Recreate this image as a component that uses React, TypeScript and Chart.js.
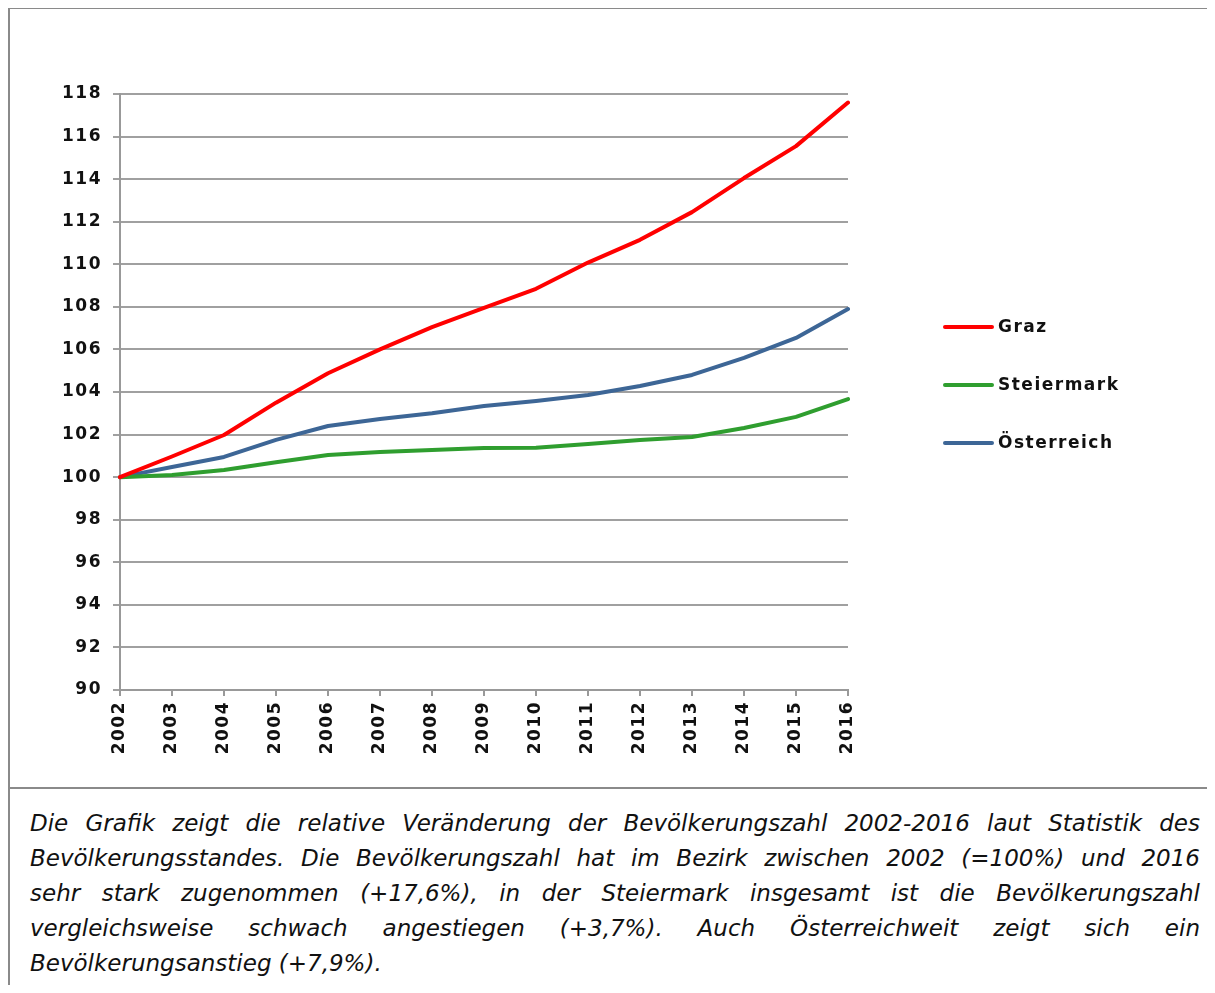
import React, { useEffect, useRef } from "react";
import { Chart, registerables } from "chart.js";

Chart.register(...registerables);

const years = ["2002","2003","2004","2005","2006","2007","2008","2009","2010","2011","2012","2013","2014","2015","2016"];
const graz = [100, 100.97, 101.98, 103.5, 104.88, 106.0, 107.05, 107.95, 108.85, 110.08, 111.15, 112.45, 114.05, 115.55, 117.6];
const steiermark = [100, 100.1, 100.34, 100.7, 101.04, 101.18, 101.28, 101.37, 101.38, 101.56, 101.75, 101.89, 102.31, 102.83, 103.67];
const oesterreich = [100, 100.48, 100.95, 101.75, 102.4, 102.73, 103.0, 103.34, 103.58, 103.86, 104.28, 104.8, 105.6, 106.54, 107.9];
const seriesLabels = ["Graz", "Steiermark", "Österreich"];
const seriesColors = ["#ff0000", "#2f9e2f", "#3d6696"];
const yMin = 90;
const yMax = 118;
const yStep = 2;

const captionLines = [
  "Die Grafik zeigt die relative Veränderung der Bevölkerungszahl 2002-2016 laut Statistik des",
  "Bevölkerungsstandes. Die Bevölkerungszahl hat im Bezirk zwischen 2002 (=100%) und 2016",
  "sehr stark zugenommen (+17,6%), in der Steiermark insgesamt ist die Bevölkerungszahl",
  "vergleichsweise schwach angestiegen (+3,7%). Auch Österreichweit zeigt sich ein",
  "Bevölkerungsanstieg (+7,9%).",
];

const FONT = "'DejaVu Sans', Verdana, sans-serif";
const LS = "1.5px";

const spacingPlugin = {
  id: "spacing",
  beforeLayout(chart: any) {
    chart.ctx.letterSpacing = LS;
  },
  beforeDraw(chart: any) {
    chart.ctx.letterSpacing = LS;
  },
};

const legendPlugin = {
  id: "customLegend",
  afterDraw(chart: any) {
    const ctx = chart.ctx;
    const area = chart.chartArea;
    ctx.save();
    ctx.letterSpacing = LS;
    chart.data.datasets.forEach((ds: any, i: number) => {
      const y = area.top + 233 + i * 58;
      const x0 = area.right + 97;
      ctx.strokeStyle = ds.borderColor;
      ctx.lineWidth = 4;
      ctx.lineCap = "round";
      ctx.beginPath();
      ctx.moveTo(x0, y);
      ctx.lineTo(x0 + 47, y);
      ctx.stroke();
      ctx.fillStyle = "#111";
      ctx.font = `bold 17px ${FONT}`;
      ctx.textAlign = "left";
      ctx.textBaseline = "middle";
      ctx.fillText(ds.label, x0 + 53, y + 1);
    });
    ctx.restore();
  },
};

function LineChart() {
  const ref = useRef<HTMLCanvasElement | null>(null);
  useEffect(() => {
    if (!ref.current) return;
    const data = [graz, steiermark, oesterreich];
    const chart = new Chart(ref.current, {
      type: "line",
      data: {
        labels: years,
        datasets: data.map((d, i) => ({
          label: seriesLabels[i],
          data: d,
          borderColor: seriesColors[i],
          backgroundColor: seriesColors[i],
          borderWidth: 4,
          pointRadius: 0,
          tension: 0,
          borderJoinStyle: "round" as const,
          borderCapStyle: "round" as const,
          fill: false,
        })),
      },
      options: {
        animation: false,
        responsive: false,
        devicePixelRatio: 1,
        layout: { padding: { top: 85, right: 367, bottom: 0, left: 0 } },
        plugins: {
          legend: { display: false },
          tooltip: { enabled: false },
          title: { display: false },
        },
        scales: {
          x: {
            type: "category",
            offset: false,
            afterFit(scale: any) {
              scale.height = 97;
            },
            grid: {
              display: true,
              drawOnChartArea: false,
              drawTicks: true,
              tickLength: 6,
              color: "#999",
              lineWidth: 2,
            },
            border: { display: true, color: "#999", width: 2 },
            ticks: {
              minRotation: 90,
              maxRotation: 90,
              autoSkip: false,
              padding: 5,
              color: "#111",
              font: { family: FONT, size: 17, weight: "bold" },
            },
          },
          y: {
            min: yMin,
            max: yMax,
            afterFit(scale: any) {
              scale.width = 110;
            },
            grid: {
              display: true,
              drawTicks: true,
              tickLength: 7,
              color: "#a0a0a0",
              lineWidth: 2,
            },
            border: { display: true, color: "#999", width: 2 },
            ticks: {
              stepSize: yStep,
              padding: 11,
              color: "#111",
              font: { family: FONT, size: 17, weight: "bold" },
            },
          },
        },
      },
      plugins: [spacingPlugin, legendPlugin],
    } as any);
    return () => chart.destroy();
  }, []);
  return <canvas ref={ref} width={1205} height={778} style={{ display: "block", width: 1205, height: 778 }} />;
}

export default function App() {
  return (
    <div
      style={{
        marginTop: -1,
        marginRight: -8,
        marginBottom: -8,
        borderTop: "2px solid #8a8a8a",
        borderLeft: "2px solid #8a8a8a",
        width: 1205,
        overflow: "hidden",
        background: "#fff",
      }}
    >
      <LineChart />
      <div
        style={{
          borderTop: "2px solid #8a8a8a",
          padding: "17px 15px 12px 20px",
          fontFamily: FONT,
          fontStyle: "italic",
          fontSize: 23,
          lineHeight: "35px",
          color: "#111",
        }}
      >
        {captionLines.map((line, i) => (
          <div
            key={i}
            style={{
              textAlign: i === captionLines.length - 1 ? "left" : "justify",
              textAlignLast: i === captionLines.length - 1 ? "left" : "justify",
              whiteSpace: "nowrap",
            }}
          >
            {line}
          </div>
        ))}
      </div>
    </div>
  );
}
